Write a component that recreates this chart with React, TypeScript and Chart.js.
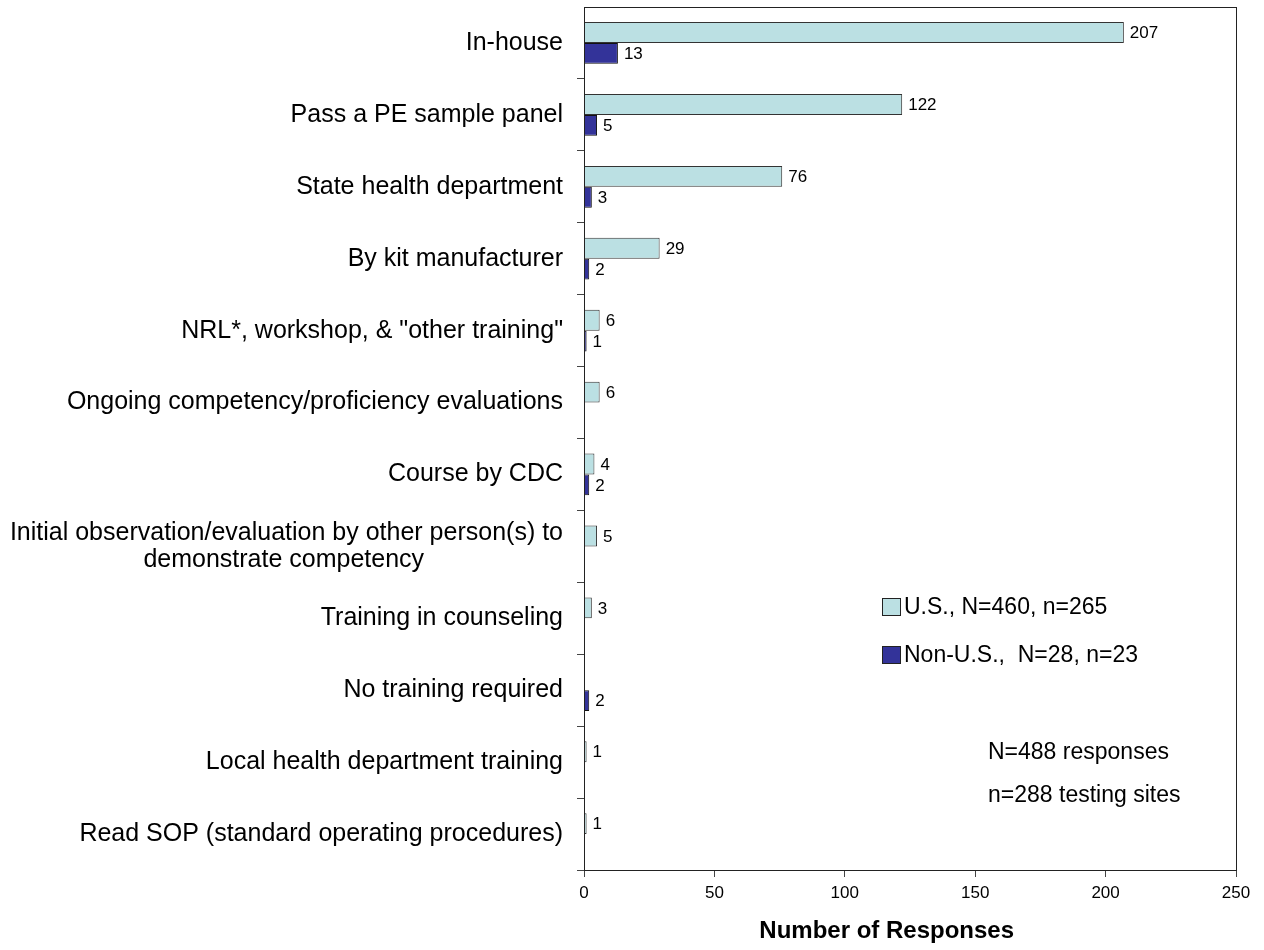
import React, { useEffect, useRef } from "react";
import Chart from "chart.js/auto";

const categories: (string | string[])[] = [
  "In-house",
  "Pass a PE sample panel",
  "State health department",
  "By kit manufacturer",
  'NRL*, workshop, & "other training"',
  "Ongoing competency/proficiency evaluations",
  "Course by CDC",
  ["Initial observation/evaluation by other person(s) to", "demonstrate competency"],
  "Training in counseling",
  "No training required",
  "Local health department training",
  "Read SOP (standard operating procedures)",
];
const usValues = [207, 122, 76, 29, 6, 6, 4, 5, 3, 0, 1, 1];
const nonUsValues = [13, 5, 3, 2, 1, 0, 2, 0, 0, 2, 0, 0];
const seriesLabels = ["U.S., N=460, n=265", "Non-U.S.,  N=28, n=23"];
const seriesColors = ["#BBE0E3", "#333399"];
const xTickValues = [0, 50, 100, 150, 200, 250];
const xTitle = "Number of Responses";
const notes = ["N=488 responses", "n=288 testing sites"];

const FONT = "'Liberation Sans', Arial, Helvetica, sans-serif";
const LABEL_SIZE = 25;

export default function App() {
  const ref = useRef<HTMLCanvasElement | null>(null);

  useEffect(() => {
    const canvas = ref.current;
    if (!canvas) return;

    // center second line of multi-line label under the first one (right-aligned labels)
    const mctx = canvas.getContext("2d")!;
    mctx.font = `${LABEL_SIZE}px ${FONT}`;
    const labels = categories.map((c) => {
      if (Array.isArray(c)) {
        const w1 = mctx.measureText(c[0]).width;
        const w2 = mctx.measureText(c[1]).width;
        const sp = mctx.measureText(" ").width;
        const n = Math.max(0, Math.round((w1 - w2) / 2 / sp));
        return [c[0], c[1] + " ".repeat(n)];
      }
      return c;
    });

    const valueLabels = {
      id: "valueLabels",
      afterDatasetsDraw(chart: any) {
        const ctx = chart.ctx;
        ctx.save();
        ctx.font = `17px ${FONT}`;
        ctx.fillStyle = "#000";
        ctx.textAlign = "left";
        ctx.textBaseline = "middle";
        chart.data.datasets.forEach((ds: any, di: number) => {
          const meta = chart.getDatasetMeta(di);
          meta.data.forEach((el: any, i: number) => {
            const v = ds.data[i];
            if (!v) return;
            ctx.fillText(String(v), el.x + 6, el.y + 1);
          });
        });
        ctx.restore();
      },
    };

    const frameAndLegend = {
      id: "frameAndLegend",
      afterDraw(chart: any) {
        const ctx = chart.ctx;
        const a = chart.chartArea;
        ctx.save();
        ctx.strokeStyle = "#222";
        ctx.lineWidth = 1;
        ctx.strokeRect(Math.round(a.left) + 0.5, Math.round(a.top) + 0.5, Math.round(a.right - a.left), Math.round(a.bottom - a.top));

        // legend
        ctx.font = `23px ${FONT}`;
        ctx.textAlign = "left";
        ctx.textBaseline = "middle";
        const ys = [607, 655];
        seriesLabels.forEach((lab, i) => {
          ctx.fillStyle = seriesColors[i];
          ctx.fillRect(882, ys[i] - 9, 19, 18);
          ctx.strokeStyle = "#222";
          ctx.strokeRect(882.5, ys[i] - 8.5, 18, 17);
          ctx.fillStyle = "#000";
          ctx.fillText(lab, 904, ys[i] + 1);
        });
        // notes
        ctx.fillText(notes[0], 988, 753);
        ctx.fillText(notes[1], 988, 796);
        ctx.restore();
      },
    };

    const chart = new Chart(canvas, {
      type: "bar",
      data: {
        labels,
        datasets: [
          {
            label: seriesLabels[0],
            data: usValues.map((v) => (v === 0 ? null : v)),
            backgroundColor: seriesColors[0],
            borderColor: "#333",
            borderWidth: 1,
            categoryPercentage: 0.58,
            barPercentage: 1.0,
          },
          {
            label: seriesLabels[1],
            data: nonUsValues.map((v) => (v === 0 ? null : v)),
            backgroundColor: seriesColors[1],
            borderColor: "#111",
            borderWidth: 1,
            categoryPercentage: 0.58,
            barPercentage: 1.0,
          },
        ],
      },
      options: {
        indexAxis: "y",
        animation: false,
        responsive: true,
        maintainAspectRatio: false,
        layout: { padding: { left: 0, top: 7, right: 28, bottom: 0 } },
        plugins: {
          legend: { display: false },
          tooltip: { enabled: false },
        },
        scales: {
          x: {
            type: "linear",
            min: 0,
            max: 250,
            afterBuildTicks: (scale: any) => {
              scale.ticks = xTickValues.map((v) => ({ value: v }));
            },
            afterFit: (scale: any) => {
              scale.height = 80;
              scale.paddingLeft = 0;
              scale.paddingRight = 0;
            },
            grid: {
              drawOnChartArea: false,
              drawTicks: true,
              tickLength: 7,
              color: "#444",
            },
            border: { display: true, color: "#222", width: 1 },
            ticks: {
              color: "#000",
              font: { family: FONT, size: 17 },
              padding: 6,
            },
            title: {
              display: true,
              text: xTitle + "       ",
              color: "#000",
              font: { family: FONT, size: 24, weight: "bold" },
              padding: { top: 0, bottom: 4 },
            },
          },
          y: {
            type: "category",
            afterFit: (scale: any) => {
              scale.width = 584;
              scale.paddingTop = 0;
              scale.paddingBottom = 0;
            },
            grid: {
              offset: true,
              drawOnChartArea: false,
              drawTicks: true,
              tickLength: 7,
              color: "#444",
              tickColor: (c: any) => (c.index === 0 ? "rgba(0,0,0,0)" : "#444"),
            },
            border: { display: true, color: "#222", width: 1 },
            ticks: {
              color: "#000",
              font: { family: FONT, size: LABEL_SIZE, lineHeight: 1.1 },
              padding: 14,
              autoSkip: false,
            },
          },
        },
      },
      plugins: [valueLabels, frameAndLegend],
    } as any);

    return () => chart.destroy();
  }, []);

  return (
    <div style={{ position: "absolute", left: 0, top: 0, width: 1264, height: 950, background: "#fff" }}>
      <canvas ref={ref} />
    </div>
  );
}
